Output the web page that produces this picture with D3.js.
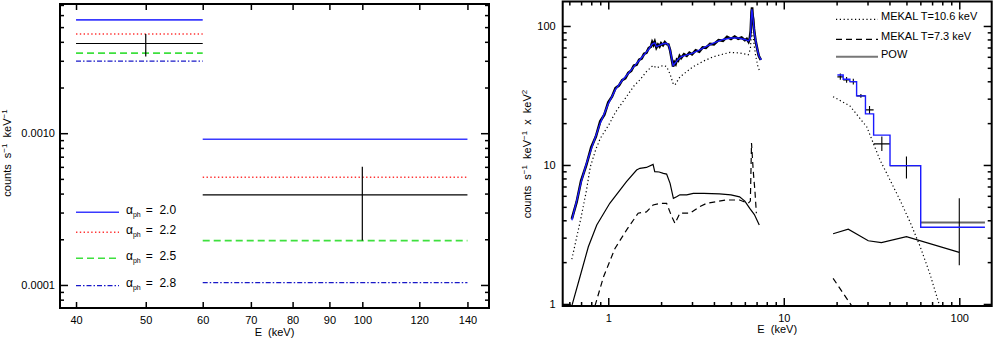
<!DOCTYPE html>
<html>
<head>
<meta charset="utf-8">
<script src="https://cdn.jsdelivr.net/npm/d3@7"></script>
<style>
  body { margin: 0; background: #fff; }
  text, tspan { font-family: "Liberation Sans", Arial, sans-serif; font-size: 11px; fill: #000; }
</style>
</head>
<body>
<svg id="chart" width="994" height="341"></svg>
<script>
// ---------- left panel : rates in the two hard X-ray bins ----------
const binLo = [40, 60]
const binHi = [60, 140]
const rateAlpha20 = [0.00558, 0.000913]
const rateAlpha22 = [0.0045, 0.000513]
const rateAlpha25 = [0.00337, 0.000196]
const rateAlpha28 = [0.00298, 0.0001035]
const rateObs = [0.0039, 0.000392]
const rateObsLo = [0.0032, 0.000196]
const rateObsHi = [0.0045, 0.0006]
const rateObsE = [50, 100]
const alphaLabels = ['2.0', '2.2', '2.5', '2.8']
const leftXTicks = [40, 50, 60, 70, 80, 90, 100, 120, 140]
const leftYMajor = [0.0001, 0.001]
const leftYMinor = [8e-5, 9e-5, 2e-4, 3e-4, 4e-4, 5e-4, 6e-4, 7e-4, 8e-4, 9e-4,
  2e-3, 3e-3, 4e-3, 5e-3, 6e-3, 7e-3]

// ---------- right panel : unfolded spectrum ----------
const specE = [0.62, 0.66, 0.70, 0.75, 0.80, 0.85, 0.90, 0.95, 1.00, 1.05, 1.10, 1.15, 1.20, 1.25,
  1.30, 1.35, 1.40, 1.45, 1.50, 1.55, 1.60, 1.65, 1.70, 1.75, 1.78, 1.81, 1.84, 1.88, 1.92, 1.96,
  2.00, 2.05, 2.10, 2.15, 2.20, 2.25, 2.30, 2.34, 2.38, 2.42, 2.46, 2.50, 2.55, 2.60, 2.70, 2.80,
  2.90, 3.00, 3.15, 3.30, 3.45, 3.60, 3.80, 4.00, 4.25, 4.50, 4.75, 5.00, 5.25, 5.50, 5.75, 6.00,
  6.15, 6.30, 6.40, 6.48, 6.55, 6.60, 6.65, 6.70, 6.76, 6.82, 6.90, 7.00, 7.10, 7.20, 7.30, 7.40]
const specRate = [4.1, 5.4, 7.7, 10.0, 13.4, 16.0, 20.6, 23.0, 28.2, 31.0, 35.8, 37.2, 40.8, 42.0,
  45.9, 47.5, 51.8, 52.6, 57.2, 58.3, 63.0, 64.1, 69.2, 71.0, 76.5, 73.2, 77.0, 70.0, 73.5, 71.2,
  75.1, 72.8, 76.4, 74.0, 73.6, 67.0, 57.5, 51.0, 54.8, 53.2, 57.3, 56.4, 60.8, 58.7, 62.6, 60.9,
  64.2, 62.5, 66.8, 65.4, 70.1, 69.6, 74.3, 73.8, 79.2, 78.1, 83.4, 80.6, 84.0, 80.9, 82.7, 79.0,
  80.8, 76.9, 81.5, 92.0, 126, 136, 118, 112, 96, 88, 79, 72, 66, 61, 59, 57]

const modelE = [0.62, 0.66, 0.70, 0.75, 0.80, 0.85, 0.90, 0.95, 1.00, 1.10, 1.20, 1.30, 1.40, 1.50,
  1.60, 1.70, 1.78, 1.84, 1.88, 1.95, 2.05, 2.15, 2.22, 2.28, 2.34, 2.40, 2.50, 2.60, 2.80, 3.00,
  3.30, 3.60, 4.00, 4.50, 5.00, 5.50, 6.00, 6.30, 6.45, 6.52, 6.58, 6.65, 6.72, 6.80, 6.95, 7.10,
  7.25, 7.45]
const modelRate = [4.0, 5.5, 7.5, 10.2, 13.0, 16.2, 20, 23.5, 27.5, 35, 40.5, 45.5, 51, 56.5,
  62, 68, 74, 75.5, 71, 72.5, 74.5, 75, 72, 62, 52, 54, 57.5, 60, 62, 63.5,
  67, 71, 75.5, 80, 82, 82, 80, 78, 82, 110, 132, 118, 104, 90, 76, 66,
  60, 57]

// hard X-ray bins, model (stepped) and measured points
const hardEdges = [20.2, 21.8, 23.8, 26, 29.2, 32.5, 40.3, 60.3, 140]
const hardModel = [44.4, 41.4, 39.8, 31.4, 23.3, 16.4, 9.9, 3.56]
const hardE = [21, 22.8, 24.9, 27.5, 30.8, 36.2, 50, 100]
const hardRate = [43, 40.9, 39.8, 31.4, 24.9, 14.2, 9.9, 3.85]
const hardLo = [41, 39, 38, 30.4, 23.3, 12.6, 8.0, 1.9]
const hardHi = [45.5, 43, 41.8, 32.4, 26.6, 16, 11.5, 5.76]

// model components
const hotLoE = [0.62, 0.66, 0.70, 0.75, 0.79, 0.85, 0.90, 1.02, 1.10, 1.27, 1.40, 1.515, 1.65, 1.80,
  1.88, 2.06, 2.15, 2.25, 2.35, 2.40, 2.50, 2.56, 2.80, 3.05, 3.50, 3.96, 4.93, 5.60, 6.27, 6.45,
  6.55, 6.65, 6.75, 6.90, 7.10, 7.30]
const hotLo = [2.1, 3.0, 4.2, 6.5, 9.7, 13, 15.5, 20, 24, 31, 37, 41, 47, 52,
  50, 52, 51, 45, 38, 37.7, 41, 43, 47, 51, 56, 60, 64.6, 64, 62, 68,
  90, 88, 76, 62, 52, 47]
const hotHiE = [19.1, 23.8, 29.7, 35.3, 40.3, 45.9, 52.4, 59.7, 68.1, 77.6]
const hotHi = [31.0, 26.6, 18.8, 10.9, 7.8, 5.6, 3.89, 2.61, 1.64, 0.95]

const coolLoE = [0.84, 0.94, 1.09, 1.27, 1.48, 1.65, 1.80, 1.97, 2.15, 2.30, 2.40, 2.56, 2.93, 3.30,
  3.64, 4.70, 5.60, 6.27, 6.45, 6.55, 6.70, 6.85, 6.98]
const coolLo = [0.97, 1.57, 2.5, 3.4, 4.5, 4.6, 5.15, 5.3, 5.3, 4.25, 3.8, 4.5, 4.5, 5.0,
  5.3, 5.6, 5.6, 5.3, 5.5, 14.4, 9.0, 6.5, 4.5]
const coolHiE = [19.1, 24.5]
const coolHi = [1.53, 0.96]

const powLoE = [0.62, 0.69, 0.77, 0.86, 1.02, 1.27, 1.45, 1.515, 1.65, 1.80, 1.84, 1.95, 2.06, 2.15,
  2.25, 2.35, 2.45, 2.56, 2.80, 3.05, 3.50, 4.30, 5.00, 5.60, 6.00, 6.40, 6.80, 7.25]
const powLo = [0.97, 1.57, 2.58, 3.7, 5.3, 7.6, 9.2, 9.46, 9.6, 10.1, 8.95, 8.9, 8.7, 8.6,
  7.37, 5.75, 5.9, 6.1, 6.1, 6.25, 6.25, 6.2, 6.1, 5.9, 5.5, 4.87, 4.4, 3.7]
const powHiE = [19.1, 23.3, 30.3, 36, 50, 100]
const powHi = [3.2, 3.45, 2.85, 2.76, 3.05, 2.35]

const compLabels = ['MEKAL T=10.6 keV', 'MEKAL T=7.3 keV', 'POW']
const rightXMajor = [1, 10, 100]
const rightXMinor = [0.6, 0.7, 0.8, 0.9, 2, 3, 4, 5, 6, 7, 8, 9, 20, 30, 40, 50, 60, 70, 80, 90]
const rightYMajor = [1, 10, 100]
const rightYMinor = [2, 3, 4, 5, 6, 7, 8, 9, 20, 30, 40, 50, 60, 70, 80, 90]

// line styles (kept apart from the data)
const alphaStyle = [
  { stroke: '#3a3aff', dash: null, width: 1.6 },
  { stroke: '#ff3333', dash: '1.4,2.4', width: 1.4 },
  { stroke: '#3ee03e', dash: '7,4', width: 1.6 },
  { stroke: '#1818c8', dash: '5,2,1.5,2', width: 1.3 }
]
const compStyle = [
  { stroke: '#000', dash: '1.2,2.6', width: 1.2 },
  { stroke: '#000', dash: '6,4', width: 1.2 },
  { stroke: '#000', dash: null, width: 1.2 }
]

const svg = d3.select('#chart')

/**
 * Draws the box and the inward ticks on all four sides of a panel.
 */
function drawFrame (g, x, y, o) {
  const [x0, x1] = x.range()
  const [y1, y0] = y.range()
  const put = (axis, tx, ty) => {
    const a = g.append('g').attr('transform', `translate(${tx},${ty})`).call(axis)
    a.select('.domain').remove()
    a.selectAll('line').attr('stroke', '#000').attr('stroke-width', 1.5)
    a.selectAll('text').attr('font-size', 11).attr('fill', '#000')
      .attr('font-family', '"Liberation Sans", Arial, sans-serif')
    return a
  }
  // major ticks with labels
  put(d3.axisBottom(x).tickValues(o.xMajor).tickSize(-o.xMajorLen).tickPadding(o.xPad).tickFormat(o.xFmt), 0, y1)
  put(d3.axisTop(x).tickValues(o.xMajor).tickSize(-o.xMajorLen).tickFormat(''), 0, y0)
  put(d3.axisLeft(y).tickValues(o.yMajor).tickSize(-8).tickPadding(o.yPad).tickFormat(o.yFmt), x0, 0)
  put(d3.axisRight(y).tickValues(o.yMajor).tickSize(-8).tickFormat(''), x1, 0)
  // minor ticks
  if (o.xMinor) {
    put(d3.axisBottom(x).tickValues(o.xMinor).tickSize(-4).tickFormat(''), 0, y1)
    put(d3.axisTop(x).tickValues(o.xMinor).tickSize(-4).tickFormat(''), 0, y0)
  }
  put(d3.axisLeft(y).tickValues(o.yMinor).tickSize(-4).tickFormat(''), x0, 0)
  put(d3.axisRight(y).tickValues(o.yMinor).tickSize(-4).tickFormat(''), x1, 0)

  g.append('rect')
    .attr('x', x0).attr('y', y0)
    .attr('width', x1 - x0).attr('height', y1 - y0)
    .attr('fill', 'none').attr('stroke', '#000').attr('stroke-width', 2)
}

/**
 * Appends a path with the given style.
 */
function drawPath (g, d, st) {
  return g.append('path')
    .attr('d', d)
    .attr('fill', 'none')
    .attr('stroke', st.stroke)
    .attr('stroke-width', st.width)
    .attr('stroke-dasharray', st.dash)
}

// ======================= LEFT PANEL =======================
const xL = d3.scaleLog().domain([38, 150]).range([60, 489])
const yL = d3.scaleLog().domain([7.05e-5, 7.1e-3]).range([308, 4])
const left = svg.append('g')

const alphaRates = [rateAlpha20, rateAlpha22, rateAlpha25, rateAlpha28]
alphaRates.forEach((rates, k) => {
  rates.forEach((r, i) => {
    const e = i === 0 ? binLo : binHi
    drawPath(left, d3.line()([[xL(e[0]), yL(r)], [xL(e[1]), yL(r)]]), alphaStyle[k])
  })
})

rateObs.forEach((r, i) => {
  const e = i === 0 ? binLo : binHi
  left.append('line')
    .attr('x1', xL(e[0])).attr('x2', xL(e[1]))
    .attr('y1', yL(r)).attr('y2', yL(r))
    .attr('stroke', '#000').attr('stroke-width', 1.2)
  left.append('line')
    .attr('x1', xL(rateObsE[i])).attr('x2', xL(rateObsE[i]))
    .attr('y1', yL(rateObsLo[i])).attr('y2', yL(rateObsHi[i]))
    .attr('stroke', '#000').attr('stroke-width', 1.2)
})

drawFrame(left, xL, yL, {
  xMajor: leftXTicks, xMajorLen: 6, xPad: 8, xFmt: d3.format('d'),
  yMajor: leftYMajor, yMinor: leftYMinor, yPad: 5, yFmt: d3.format('.4f')
})

// legend for the photon index
const alphaLegendY = [212.3, 232.3, 258.3, 285.7]
alphaLabels.forEach((lab, k) => {
  const yy = alphaLegendY[k]
  drawPath(left, d3.line()([[76, yy], [119, yy]]), alphaStyle[k])
  const t = left.append('text').attr('x', 126).attr('y', yy + 1.5)
    .style('font-size', '12px').style('fill', '#000')
  t.append('tspan').style('font-size', '12px').style('fill', '#000').text('α')
  t.append('tspan').style('font-size', '7px').style('fill', '#000').attr('dy', 3).text('ph')
  t.append('tspan').style('font-size', '12px').style('fill', '#000')
    .attr('dy', -3).attr('dx', 5).style('white-space', 'pre').text('=  ' + lab)
})

left.append('text')
  .attr('x', xL.range()[0] / 2 + xL.range()[1] / 2).attr('y', 335.5)
  .attr('text-anchor', 'middle').style('white-space', 'pre')
  .text('E  (keV)')

const yLabL = left.append('text')
  .attr('transform', 'translate(11,153) rotate(-90)')
  .attr('text-anchor', 'middle').style('white-space', 'pre')
yLabL.append('tspan').text('counts  s')
yLabL.append('tspan').style('font-size', '8px').attr('dy', -4).text('−1')
yLabL.append('tspan').attr('dy', 4).text('  keV')
yLabL.append('tspan').style('font-size', '8px').attr('dy', -4).text('−1')

// ======================= RIGHT PANEL =======================
const xR = d3.scaleLog().domain([0.55, 153]).range([562.7, 991.7])
const yR = d3.scaleLog().domain([0.967, 150]).range([306, 1.5])
const right = svg.append('g')

right.append('clipPath').attr('id', 'clipR')
  .append('rect').attr('x', 562.7).attr('y', 1.5).attr('width', 429).attr('height', 304.5)
const plot = right.append('g').attr('clip-path', 'url(#clipR)')

const lineR = d3.line().x(d => xR(d[0])).y(d => yR(d[1]))
const zip = (a, b) => a.map((v, i) => [v, b[i]])

// components
drawPath(plot, lineR(zip(hotLoE, hotLo)), compStyle[0])
drawPath(plot, lineR(zip(hotHiE, hotHi)), compStyle[0])
drawPath(plot, lineR(zip(coolLoE, coolLo)), compStyle[1])
drawPath(plot, lineR(zip(coolHiE, coolHi)), compStyle[1])
drawPath(plot, lineR(zip(powLoE, powLo)), compStyle[2])
drawPath(plot, lineR(zip(powHiE, powHi)), compStyle[2])

// observed spectrum and total model
drawPath(plot, lineR(zip(specE, specRate)), { stroke: '#000', dash: null, width: 2.6 })
drawPath(plot, lineR(zip(modelE, modelRate)), { stroke: '#1a1aff', dash: null, width: 1.4 })

// hard X-ray points
hardE.forEach((e, i) => {
  plot.append('line')
    .attr('x1', xR(hardEdges[i])).attr('x2', xR(hardEdges[i + 1]))
    .attr('y1', yR(hardRate[i])).attr('y2', yR(hardRate[i]))
    .attr('stroke', i === hardE.length - 1 ? '#666' : '#000')
    .attr('stroke-width', i === hardE.length - 1 ? 2 : 1.2)
  plot.append('line')
    .attr('x1', xR(e)).attr('x2', xR(e))
    .attr('y1', yR(hardLo[i])).attr('y2', yR(hardHi[i]))
    .attr('stroke', '#000').attr('stroke-width', 1.1)
})
const stepPts = hardModel.map((v, i) => [hardEdges[i], v])
stepPts.push([hardEdges[hardEdges.length - 1], hardModel[hardModel.length - 1]])
drawPath(plot, d3.line().curve(d3.curveStepAfter).x(d => xR(d[0])).y(d => yR(d[1]))(stepPts),
  { stroke: '#1a1aff', dash: null, width: 1.4 })

drawFrame(right, xR, yR, {
  xMajor: rightXMajor, xMinor: rightXMinor, xMajorLen: 8, xPad: 8, xFmt: d3.format('d'),
  yMajor: rightYMajor, yMinor: rightYMinor, yPad: 7, yFmt: d3.format('d')
})

// component legend
const compLegendY = [19.3, 39.3, 56.7]
compLabels.forEach((lab, k) => {
  const yy = compLegendY[k]
  const st = k === 2 ? { stroke: '#777', dash: null, width: 2 } : compStyle[k]
  drawPath(right, d3.line()([[836, yy], [878, yy]]), st)
  right.append('text').attr('x', 881).attr('y', yy + 1).text(lab)
})

right.append('text')
  .attr('x', (xR.range()[0] + xR.range()[1]) / 2).attr('y', 333)
  .attr('text-anchor', 'middle').style('white-space', 'pre')
  .text('E  (keV)')

const yLabR = right.append('text')
  .attr('transform', 'translate(531,154) rotate(-90)')
  .attr('text-anchor', 'middle').style('white-space', 'pre')
yLabR.append('tspan').text('counts  s')
yLabR.append('tspan').style('font-size', '8px').attr('dy', -4).text('−1')
yLabR.append('tspan').attr('dy', 4).text('  keV')
yLabR.append('tspan').style('font-size', '8px').attr('dy', -4).text('−1')
yLabR.append('tspan').attr('dy', 4).text('  x  keV')
yLabR.append('tspan').style('font-size', '8px').attr('dy', -4).text('2')
</script>
</body>
</html>
